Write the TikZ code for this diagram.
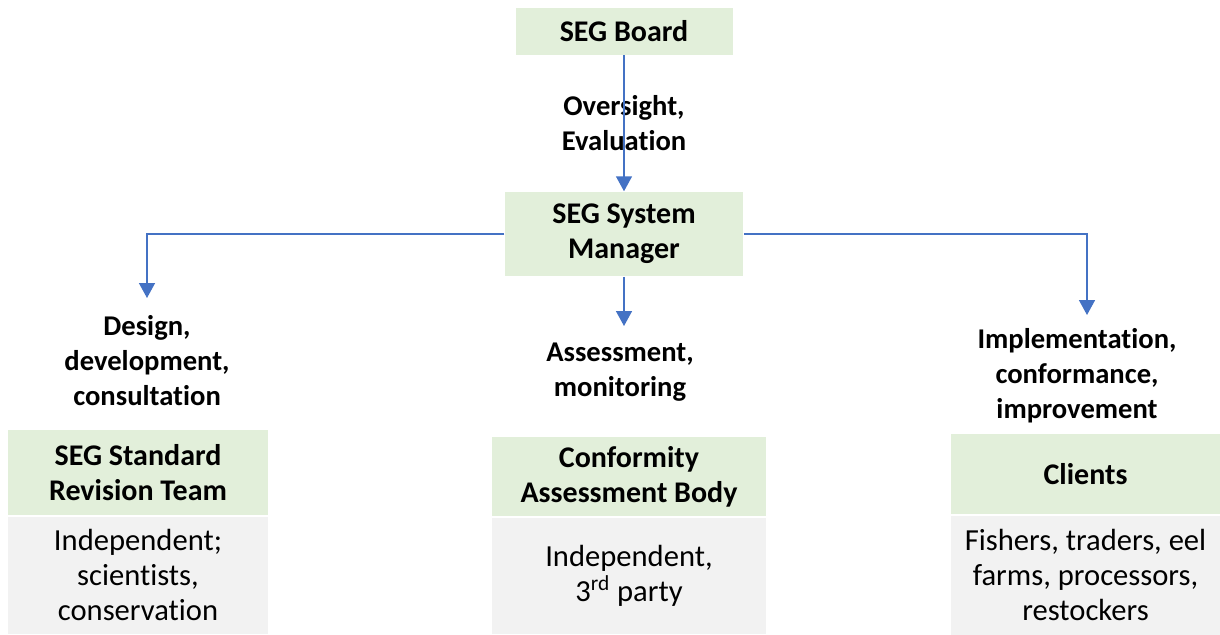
\documentclass[tikz,border=0pt]{standalone}
\usepackage{fontspec}
\setmainfont{Carlito}[Ligatures=NoCommon]
\usetikzlibrary{
	arrows.meta,
	positioning,
	calc,
}
\definecolor{headgreen}{HTML}{E2EFDA}
\definecolor{bodygray}{HTML}{F2F2F2}
\definecolor{linkblue}{HTML}{4472C4}
\tikzset{headbox/.style={
		% The shape:
		rectangle,
		% The filling:
		fill=headgreen,
		% The text:
		font=\fontsize{15}{17.5}\selectfont\bfseries,
		align=center,inner sep=0pt,
}}
\tikzset{bodybox/.style={
		% The shape:
		rectangle,
		% The filling:
		fill=bodygray,
		% The text:
		font=\fontsize{15.3}{17.5}\selectfont,
		align=center,inner sep=0pt,
}}
\tikzset{flowlabel/.style={
		% bold text beside the links
		font=\fontsize{14.3}{17.5}\selectfont\bfseries,
		align=center,inner sep=0pt,
}}

\begin{document}
\begin{tikzpicture}[x=0.5pt,y=-0.5pt,>={Triangle[width=8pt,length=7.5pt]},
	line width=0.75pt,linkblue,text=black]
	\useasboundingbox (0,0) rectangle (1220,634);
	% top of the chart
	\node [headbox,minimum width=108.5pt,minimum height=23.5pt] (board) at (624,31) {SEG Board};
	\node [headbox,minimum width=119pt,minimum height=42pt] (mgr) at (624,234) {SEG System\\Manager};
	\node [flowlabel] (oversight) at (624,123) {Oversight,\\Evaluation};
	% the three bodies
	\node [headbox,minimum width=130pt,minimum height=42.5pt] (srt) at (138,472.5) {SEG Standard\\Revision Team};
	\node [bodybox,minimum width=130pt,minimum height=58.5pt,below=0pt of srt] (srtbody) {Independent;\\scientists,\\conservation};
	\node [headbox,minimum width=137pt,minimum height=39.5pt] (cab) at (629,476.5) {Conformity\\Assessment Body};
	\node [bodybox,minimum width=137pt,minimum height=58pt,below=0pt of cab] (cabbody) {Independent,\\3\textsuperscript{rd} party};
	\node [headbox,minimum width=134.5pt,minimum height=40pt] (clients) at (1085.5,474) {Clients};
	\node [bodybox,minimum width=134.5pt,minimum height=59.5pt,below=0pt of clients] (clientsbody) {Fishers, traders, eel\\farms, processors,\\restockers};
	% labels over the bodies
	\node [flowlabel] (design) at (147,361) {Design,\\development,\\consultation};
	\node [flowlabel] (assess) at (620,372) {Assessment,\\monitoring};
	\node [flowlabel] (impl) at (1077,376) {Implementation,\\conformance,\\improvement};
	\coordinate (tipdesign) at (147,298);
	\coordinate (tipassess) at (624,326);
	\coordinate (tipimpl) at (1087,315);
	% links
	\draw [->] (board.south) -- (mgr.north);
	\draw [->] (mgr.west) -| (tipdesign);
	\draw [->] (mgr.south) -- (tipassess);
	\draw [->] (mgr.east) -| (tipimpl);
\end{tikzpicture}
\end{document}
